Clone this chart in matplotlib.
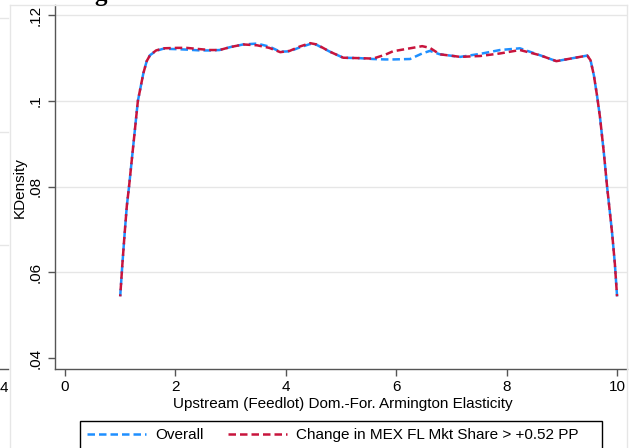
import matplotlib
matplotlib.use('Agg')
import matplotlib.pyplot as plt
from matplotlib.lines import Line2D
from matplotlib.patches import Rectangle

plt.rcParams['font.family'] = ['Liberation Sans', 'DejaVu Sans']

# ---------------- data ----------------
elasticity = [1.00, 1.04, 1.08, 1.12, 1.16, 1.24, 1.32, 1.42, 1.48, 1.54, 1.65, 1.78,
              2.03, 2.20, 2.45, 2.63, 2.80, 3.00, 3.23, 3.48, 3.70, 3.90, 4.07, 4.25,
              4.44, 4.56, 4.80, 5.04, 5.34, 5.58, 5.80, 5.94, 6.25, 6.47, 6.61, 6.79,
              7.16, 7.52, 7.88, 8.24, 8.60, 8.90, 9.20, 9.46, 9.52, 9.58, 9.64, 9.69,
              9.76, 9.82, 9.87, 9.91, 9.96, 10.00]
kd_overall = [0.0544, 0.0620, 0.0690, 0.0755, 0.0800, 0.0900, 0.1000, 0.1065, 0.1093, 0.1107, 0.1117, 0.1122,
              0.1121, 0.1120, 0.1118, 0.1118, 0.1119, 0.1126, 0.1132, 0.1134, 0.1127, 0.1115, 0.1116, 0.1125,
              0.1133, 0.1131, 0.1115, 0.1101, 0.1100, 0.1098, 0.1097, 0.1097, 0.1098, 0.1111, 0.1117, 0.1109,
              0.1103, 0.1110, 0.1119, 0.1123, 0.1107, 0.1093, 0.1100, 0.1106, 0.1095, 0.1060, 0.1010, 0.0963,
              0.0880, 0.0799, 0.0740, 0.0692, 0.0620, 0.0544]
kd_mex = [0.0544, 0.0620, 0.0690, 0.0755, 0.0800, 0.0900, 0.1000, 0.1065, 0.1093, 0.1107, 0.1118, 0.1123,
          0.1124, 0.1124, 0.1121, 0.1119, 0.1119, 0.1126, 0.1132, 0.1130, 0.1124, 0.1114, 0.1117, 0.1127,
          0.1135, 0.1132, 0.1115, 0.1101, 0.1100, 0.1099, 0.1108, 0.1116, 0.1123, 0.1128, 0.1124, 0.1109,
          0.1103, 0.1105, 0.1111, 0.1119, 0.1107, 0.1093, 0.1100, 0.1106, 0.1095, 0.1060, 0.1010, 0.0963,
          0.0880, 0.0799, 0.0740, 0.0692, 0.0620, 0.0544]
series_names = ['Overall', 'Change in MEX FL Mkt Share > +0.52 PP']
yticks = [0.04, 0.06, 0.08, 0.10, 0.12]
ytick_labels = ['.04', '.06', '.08', '.1', '.12']
grid_ticks = [0.06, 0.08, 0.10, 0.12]
xticks = [0, 2, 4, 6, 8, 10]
xlabel = 'Upstream (Feedlot) Dom.-For. Armington Elasticity'
ylabel = 'KDensity'

# ---------------- figure ----------------
W, H = 631, 448
FS = 11
fig = plt.figure(figsize=(W / 100, H / 100), dpi=100)
fig.patch.set_facecolor('white')

def fx(px):
    return px / W

def fy(py):
    return 1 - py / H

# outer light frame of the (cropped) panel
frame_col = '#E6E6E6'
fig.add_artist(Line2D([fx(10), fx(10)], [fy(5), fy(460)], color=frame_col, lw=1.0))
fig.add_artist(Line2D([fx(10), fx(627)], [fy(5), fy(5)], color=frame_col, lw=1.0))
fig.add_artist(Line2D([fx(627), fx(627)], [fy(5), fy(460)], color=frame_col, lw=1.0))

# remnants of the neighbouring panel on the left
for gy in [18, 132, 245]:
    fig.add_artist(Line2D([fx(0), fx(8)], [fy(gy), fy(gy)], color=frame_col, lw=1.0))
fig.add_artist(Line2D([fx(0), fx(8)], [fy(369), fy(369)], color='#555555', lw=1.0))
fig.text(fx(4), fy(388), '4', ha='center', va='center', fontsize=FS, color='black')

# cut-off title remnant
fig.text(fx(94), fy(0.5), 'g', ha='left', va='baseline', fontsize=18,
         fontweight='bold', family=['Liberation Serif', 'DejaVu Serif'], color='black')

ax = fig.add_axes([fx(55), fy(369), (627 - 55) / W, (369 - 5) / H])
ax.set_facecolor('white')

blue = '#1E8FFF'
red = '#C8143C'
on, off = 3.0, 1.6
LW = 1.8
l1, = ax.plot(elasticity, kd_overall, color=blue, lw=LW,
              linestyle=(0, (on, off)), zorder=3)
l2, = ax.plot(elasticity, kd_mex, color=red, lw=LW,
              linestyle=(2.2, (on, off)), zorder=4)

ax.set_xlim(-0.181, 10.18)
ax.set_ylim(0.03743, 0.12241)

for g in grid_ticks:
    ax.axhline(g, color='#E6E6E6', lw=1.0, zorder=1)

ax.set_xticks(xticks)
ax.set_xticklabels([str(t) for t in xticks], fontsize=FS)
ax.set_yticks(yticks)
ax.set_yticklabels(ytick_labels, fontsize=FS, rotation=90, va='center')

for s in ['top', 'right']:
    ax.spines[s].set_visible(False)
for s in ['left', 'bottom']:
    ax.spines[s].set_color('#555555')
    ax.spines[s].set_linewidth(1.0)
ax.tick_params(axis='both', direction='out', length=5, width=1.0, color='#555555',
               labelcolor='black')
ax.tick_params(axis='x', pad=3)
ax.tick_params(axis='y', pad=4)

fig.text(fx(343), fy(404), xlabel, ha='center', va='center', fontsize=FS)
fig.text(fx(20), fy(188), ylabel, ha='center', va='center', rotation=90, fontsize=FS)

# legend (proxy handles with plain dashes) and a Stata-like frame
h1 = Line2D([], [], color=blue, lw=LW, linestyle=(0, (on, off)))
h2 = Line2D([], [], color=red, lw=LW, linestyle=(0, (on, off)))
leg = fig.legend([h1, h2], series_names, loc='upper left',
                 bbox_to_anchor=(fx(80), fy(421)), bbox_transform=fig.transFigure,
                 ncol=2, fontsize=FS, frameon=False,
                 handlelength=3.85, handletextpad=0.65, columnspacing=1.55,
                 borderpad=0.45, borderaxespad=0)
fig.add_artist(Rectangle((fx(80), fy(470)), fx(602) - fx(80), fy(421) - fy(470),
                         transform=fig.transFigure, fill=False, edgecolor='black', lw=1.0))

fig.savefig('out.png', dpi=100, facecolor='white')
